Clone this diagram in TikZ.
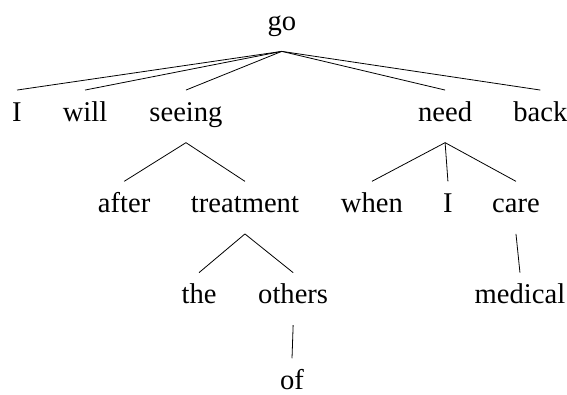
\documentclass[tikz,border=0pt]{standalone}
\usepackage{fontspec}
\setmainfont{Liberation Serif}
\usepackage{tikz}

\begin{document}
\begin{tikzpicture}[every node/.style={anchor=base, inner xsep=0pt, inner ysep=5.5pt,
        text height=10pt, text depth=5pt, font=\fontsize{14.35}{17}\selectfont}]
        \useasboundingbox (0, 0) rectangle (10, 6.95);
        \node (GO) at (4.97, 6.42) {go};
        \node (I) at (0.30, 4.81) {I};
        \node (WL) at (1.50, 4.81) {will};
        \node (SE) at (3.28, 4.81) {seeing};
        \node (NE) at (7.85, 4.81) {need};
        \node (BK) at (9.53, 4.81) {back};
        \node (AF) at (2.19, 3.20) {after};
        \node (TR) at (4.32, 3.20) {treatment};
        \node (WH) at (6.56, 3.20) {when};
        \node (IN) at (7.90, 3.20) {I};
        \node (CA) at (9.10, 3.20) {care};
        \node (TH) at (3.51, 1.59) {the};
        \node (OT) at (5.17, 1.59) {others};
        \node (ME) at (9.17, 1.59) {medical};
        \node (OF) at (5.15, 0.08) {of};
        \draw (GO.south) -- (I.north);
        \draw (GO.south) -- (WL.north);
        \draw (GO.south) -- (SE.north);
        \draw (GO.south) -- (NE.north);
        \draw (GO.south) -- (BK.north);
        \draw (SE.south) -- (AF.north);
        \draw (SE.south) -- (TR.north);
        \draw (NE.south) -- (WH.north);
        \draw (NE.south) -- (IN.north);
        \draw (NE.south) -- (CA.north);
        \draw (TR.south) -- (TH.north);
        \draw (TR.south) -- (OT.north);
        \draw (CA.south) -- (ME.north);
        \draw (OT.south) -- (OF.north);
\end{tikzpicture}
\end{document}
